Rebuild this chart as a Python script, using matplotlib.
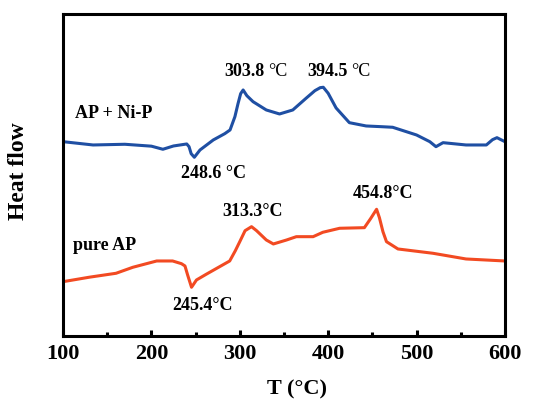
import matplotlib
matplotlib.use("Agg")
import matplotlib.pyplot as plt
from matplotlib.ticker import MultipleLocator

# Temperature (°C) and heat flow (arbitrary units)
T_nip = [100, 134, 170, 200, 213, 225, 240, 242.6, 245, 248.6, 255, 270, 283, 289, 294.5, 298, 301, 303.8,
         308, 315, 330, 345, 360, 375, 385, 391, 394.5, 400, 409, 424, 443, 460, 473, 500, 515, 522, 530,
         556, 579, 586, 591, 600]
hf_nip = [194, 190.7, 191.4, 189.5, 186.4, 189.7, 191.7, 189, 182, 178.4, 185.7, 195.7, 202, 205.7, 219, 232, 242, 245.7,
          240, 234, 225.7, 221.7, 225.7, 237.4, 245, 248, 248.4, 242.4, 227.7, 213, 209.7, 209, 208.4, 200.7, 194, 189, 193,
          190.7, 190.7, 196, 198, 194]

T_ap = [100, 130, 160, 179, 206, 224, 234, 238, 241, 245.4, 251, 262, 288.6, 295, 300, 306, 313.3,
        319, 330, 338, 353, 364, 383, 394, 413, 441, 448, 454.8, 458, 462, 466, 479, 518.6, 556, 600]
hf_ap = [54, 58.5, 62.4, 68.4, 74.7, 74.7, 72, 69.7, 60.7, 48.4, 55.7, 61.4, 74.7, 85, 94, 105, 109,
         105, 95.7, 91.7, 95.7, 99, 99, 103.4, 107.4, 108, 117, 126.4, 118, 104, 94, 86.7, 82.4, 76.7, 74.7]

plt.rcParams['font.family'] = ['Liberation Serif', 'DejaVu Serif']
plt.rcParams['font.weight'] = 'bold'

fig = plt.figure(figsize=(5.4, 3.99), dpi=100)
ax = fig.add_axes([0.1167, 0.1587, 0.8183, 0.8063])

ax.plot(T_nip, hf_nip, color='#1f4fa3', lw=2.2, solid_joinstyle='round', solid_capstyle='round')
ax.plot(T_ap, hf_ap, color='#f24a22', lw=2.2, solid_joinstyle='round', solid_capstyle='round')

fs = 13
# split labels: bold number + regular-weight unit
for num, x, y in [("303.8", 328, 263.7), ("394.5", 422, 263.7)]:
    ax.text(x, y, num, fontsize=fs, fontweight='bold', ha='right', va='center')
    ax.annotate('°C', xy=(x, y), xytext=(2.5, 0), textcoords='offset points',
                fontsize=fs, fontweight='normal', ha='left', va='center')

for txt, x, y in [("248.6 °C", 270, 161.7), ("454.8°C", 462, 141.7),
                  ("313.3°C", 315, 123.7), ("245.4°C", 258, 29.7)]:
    ax.text(x, y, txt, fontsize=fs, fontweight='bold', ha='center', va='center')

for txt, x, y in [("AP + Ni-P", 113, 221.7), ("pure AP", 111, 89.7)]:
    ax.text(x, y, txt, fontsize=fs, fontweight='bold', ha='left', va='center')

ax.set_xlim(100, 600)
ax.set_ylim(0, 321.7)
ax.set_yticks([])
ax.xaxis.set_major_locator(MultipleLocator(100))
ax.xaxis.set_minor_locator(MultipleLocator(50))
ax.tick_params(axis='x', which='major', direction='in', length=4, width=2.2,
               labelsize=16, pad=6, top=False)
ax.tick_params(axis='x', which='minor', direction='in', length=3, width=2.2, top=False)
for lbl in ax.get_xticklabels():
    lbl.set_fontweight('bold')
for s in ax.spines.values():
    s.set_linewidth(2.2)

ax.set_xlabel('T (°C)', fontsize=16, fontweight='bold')
ax.xaxis.set_label_coords(0.53, -0.135)
ax.set_ylabel('Heat flow', fontsize=17, fontweight='bold')
ax.yaxis.set_label_coords(-0.078, 0.51)

fig.savefig('out.png', dpi=100)
